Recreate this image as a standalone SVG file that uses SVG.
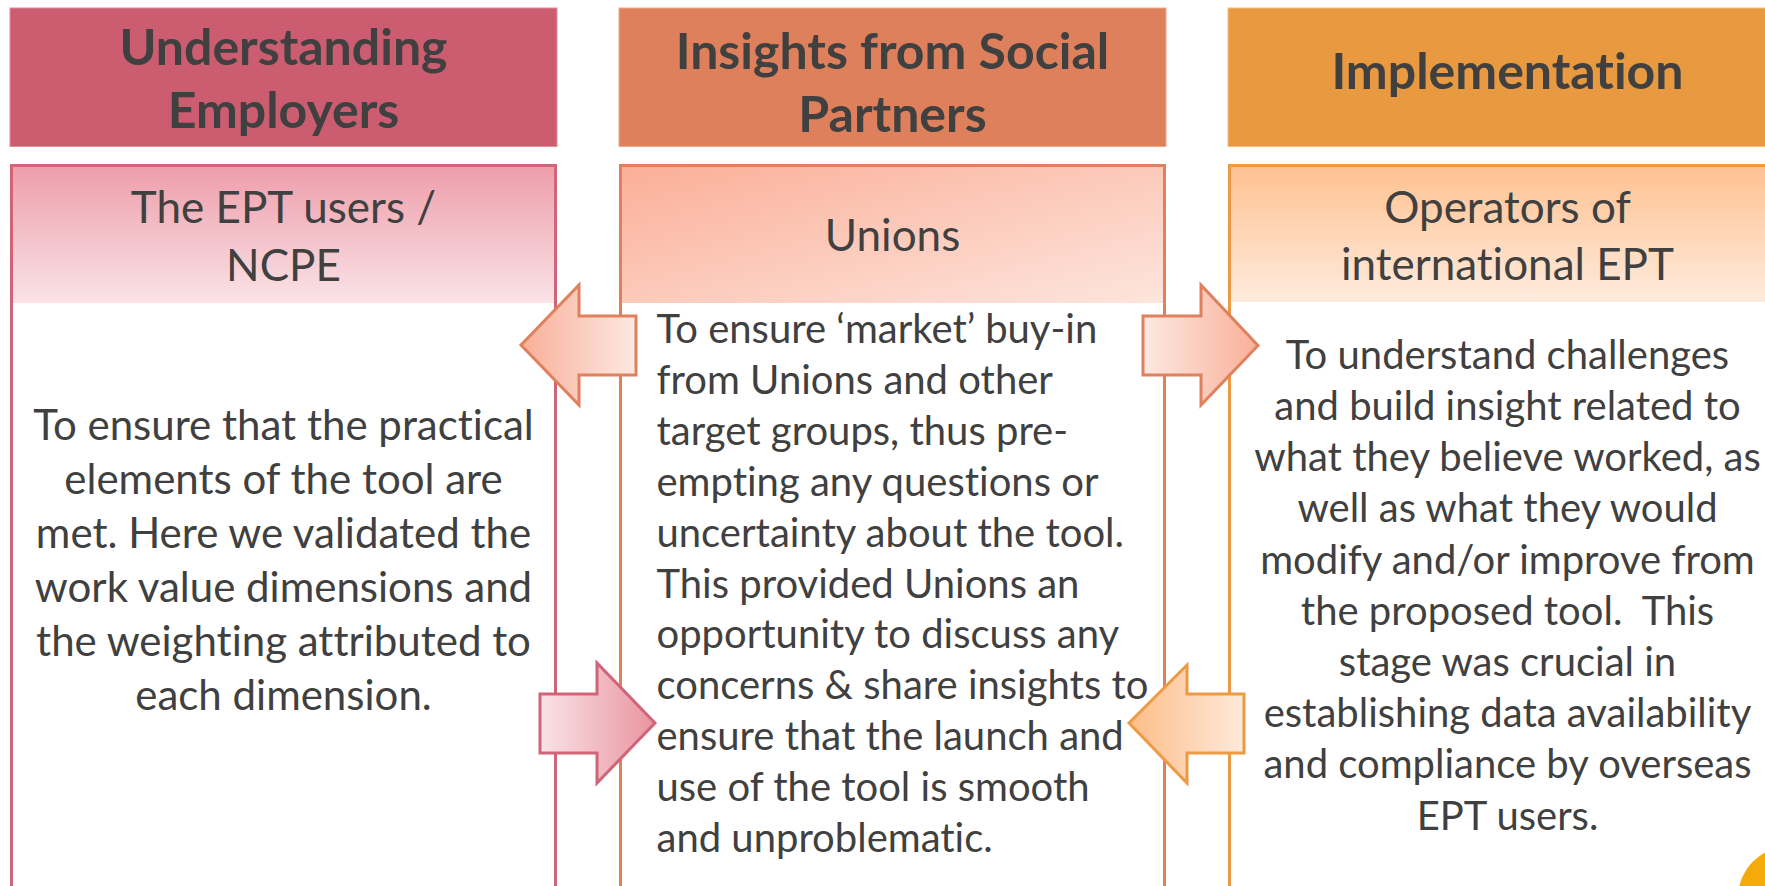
<svg xmlns="http://www.w3.org/2000/svg" width="1765" height="886" viewBox="0 0 1765 886">
<style>
text{font-family:Lato,"Liberation Sans",sans-serif;fill:#404040;font-variant-ligatures:none}
.hd{font-weight:bold;font-size:50px;text-anchor:middle}
.sh{font-size:44px;text-anchor:middle}
.bd{font-size:40px}
.bd1{font-size:42px}
.c{text-anchor:middle}
.pan{fill:#ffffff;stroke-width:3}
.arr{stroke-width:3;stroke-linejoin:miter}
</style>
<defs>
<linearGradient id="g1" x1="0" y1="0" x2="0" y2="1"><stop offset="0" stop-color="#EE9FAB"/><stop offset="1" stop-color="#FAE3E7"/></linearGradient>
<linearGradient id="g2" x1="0" y1="0" x2="1" y2="1"><stop offset="0" stop-color="#FBAF98"/><stop offset="1" stop-color="#FDE5DD"/></linearGradient>
<linearGradient id="g3" x1="0" y1="0" x2="0" y2="1"><stop offset="0" stop-color="#FEC292"/><stop offset="1" stop-color="#FFEBDD"/></linearGradient>
<linearGradient id="a1" x1="0" y1="0" x2="1" y2="0"><stop offset="0" stop-color="#F9AF98"/><stop offset="1" stop-color="#FDE9E3"/></linearGradient>
<linearGradient id="a2" x1="0" y1="0" x2="1" y2="0"><stop offset="0" stop-color="#FDE9E3"/><stop offset="1" stop-color="#F9AF98"/></linearGradient>
<linearGradient id="a3" x1="0" y1="0" x2="1" y2="0"><stop offset="0" stop-color="#FAE3E7"/><stop offset="1" stop-color="#E9949F"/></linearGradient>
<linearGradient id="a4" x1="0" y1="0" x2="1" y2="0"><stop offset="0" stop-color="#FDBD88"/><stop offset="1" stop-color="#FFE9DA"/></linearGradient>
</defs>
<rect width="1765" height="886" fill="#ffffff"/>

<g id="col1-header">
<rect x="10" y="8" width="547" height="138.5" fill="#CC5D71" stroke="#E28E9C" stroke-width="1"/>
<text class="hd" x="283.5" y="65">Understanding</text>
<text class="hd" x="283.5" y="128">Employers</text>
</g>
<g id="col2-header">
<rect x="619" y="8" width="547" height="138.5" fill="#DF805C" stroke="#EDA98F" stroke-width="1"/>
<text class="hd" x="892.5" y="68.5">Insights from Social</text>
<text class="hd" x="892.5" y="131.5">Partners</text>
</g>
<g id="col3-header">
<rect x="1228" y="8" width="560" height="138.5" fill="#E99A41" stroke="#F2BE83" stroke-width="1"/>
<text class="hd" x="1507.5" y="89">Implementation</text>
</g>

<g id="col1-panel">
<rect class="pan" x="11.5" y="165.5" width="544" height="760" stroke="#D06478"/>
<rect x="13" y="167" width="541" height="136" fill="url(#g1)"/>
<text class="sh" x="283.5" y="223">The EPT users /</text>
<text class="sh" x="283.5" y="280.5">NCPE</text>
<g class="bd1 c">
<text x="283.5" y="439.5">To ensure that the practical</text>
<text x="283.5" y="493.6">elements of the tool are</text>
<text x="283.5" y="547.7">met. Here we validated the</text>
<text x="283.5" y="601.8">work value dimensions and</text>
<text x="283.5" y="655.9">the weighting attributed to</text>
<text x="283.5" y="710">each dimension.</text>
</g>
</g>

<g id="col2-panel">
<rect class="pan" x="620.5" y="165.5" width="544" height="760" stroke="#E0815E"/>
<rect x="622" y="167" width="541" height="136" fill="url(#g2)"/>
<text class="sh" x="892.5" y="250.5">Unions</text>
<g class="bd">
<text x="656.5" y="343">To ensure ‘market’ buy-in</text>
<text x="656.5" y="393.9">from Unions and other</text>
<text x="656.5" y="444.8">target groups, thus pre-</text>
<text x="656.5" y="495.7">empting any questions or</text>
<text x="656.5" y="546.6">uncertainty about the tool.</text>
<text x="656.5" y="597.5">This provided Unions an</text>
<text x="656.5" y="648.4">opportunity to discuss any</text>
<text x="656.5" y="699.3">concerns &amp; share insights to</text>
<text x="656.5" y="750.2">ensure that the launch and</text>
<text x="656.5" y="801.1">use of the tool is smooth</text>
<text x="656.5" y="852">and unproblematic.</text>
</g>
</g>

<g id="col3-panel">
<rect class="pan" x="1229.5" y="165.5" width="556" height="760" stroke="#EC9A44"/>
<rect x="1231" y="167" width="553" height="135" fill="url(#g3)"/>
<text class="sh" x="1507.5" y="222.5">Operators of</text>
<text class="sh" x="1507.5" y="280">international EPT</text>
<g class="bd c">
<text x="1507.5" y="368.7">To understand challenges</text>
<text x="1507.5" y="419.9">and build insight related to</text>
<text x="1507.5" y="471.1">what they believe worked, as</text>
<text x="1507.5" y="522.3">well as what they would</text>
<text x="1507.5" y="573.5">modify and/or improve from</text>
<text x="1507.5" y="624.7" xml:space="preserve">the proposed tool.  This</text>
<text x="1507.5" y="675.9">stage was crucial in</text>
<text x="1507.5" y="727.1">establishing data availability</text>
<text x="1507.5" y="778.3">and compliance by overseas</text>
<text x="1507.5" y="829.5">EPT users.</text>
</g>
</g>

<g id="connectors">
<polygon id="arrow-unions-to-users" class="arr" points="521,345 579,285 579,316 636,316 636,375 579,375 579,405" fill="url(#a1)" stroke="#E0815E"/>
<polygon id="arrow-unions-to-operators" class="arr" points="1143,316 1201,316 1201,285 1258,345.5 1201,405 1201,375 1143,375" fill="url(#a2)" stroke="#E0815E"/>
<polygon id="arrow-users-to-unions" class="arr" points="540,694 597,694 597,663 655,723 597,783 597,753 540,753" fill="url(#a3)" stroke="#D06478"/>
<polygon id="arrow-operators-to-unions" class="arr" points="1129,723 1187,665 1187,694 1244,694 1244,753 1187,753 1187,783" fill="url(#a4)" stroke="#EC9A44"/>
</g>

<circle cx="1790" cy="898" r="52" fill="#F6AA0A"/>
</svg>
